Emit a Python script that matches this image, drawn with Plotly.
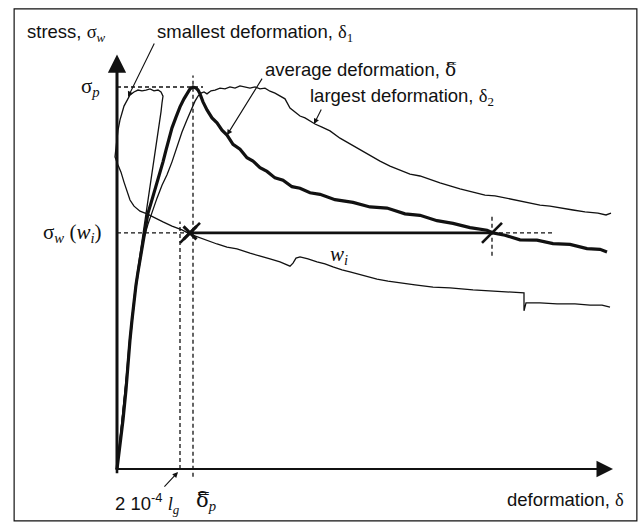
import plotly.graph_objects as go

# ---------------- data (deformation in arbitrary units, stress in % of peak) -------------
avg_d = [0, 0.03, 0.06, 0.09, 0.11, 0.13, 0.15, 0.17, 0.19, 0.21, 0.23, 0.25, 0.27, 0.29, 0.31,
         0.34, 0.37, 0.40, 0.43, 0.46, 0.49, 0.52, 0.55, 0.59, 0.63, 0.67, 0.70, 0.73, 0.76, 0.79,
         0.81, 0.83, 0.86, 0.90, 0.95, 1.00, 1.05, 1.10, 1.16, 1.23, 1.30, 1.36, 1.43, 1.50, 1.58,
         1.66, 1.75, 1.83, 1.93, 2.03, 2.18, 2.36, 2.53, 2.70, 2.88, 3.03, 3.20, 3.36, 3.53, 3.70,
         3.76, 3.88, 4.03, 4.20, 4.36, 4.53, 4.70, 4.83, 4.90]
avg_s = [0, 6.3, 12.8, 20.7, 28.5, 33.8, 39.0, 44.2, 48.2, 51.6, 54.7, 57.9, 61.3, 64.1, 67.0,
         69.6, 72.3, 74.9, 77.2, 80.4, 83.5, 86.6, 89.3, 92.1, 94.8, 96.9, 98.4, 99.5, 100.0, 99.7,
         99.2, 98.2, 96.1, 94.0, 91.9, 90.6, 88.7, 87.4, 85.0, 83.7, 81.5, 80.6, 78.9, 77.9, 76.2,
         75.6, 73.9, 73.5, 72.3, 71.9, 70.5, 69.8, 68.6, 68.3, 66.8, 66.4, 65.0, 64.3, 63.2, 62.5,
         61.8, 61.2, 60.0, 59.9, 59.0, 58.8, 57.7, 57.5, 56.8]

lg_d = [0, 0.03, 0.06, 0.09, 0.12, 0.15, 0.18, 0.21, 0.24, 0.27, 0.31, 0.35, 0.40, 0.45, 0.50,
        0.55, 0.60, 0.65, 0.70, 0.74, 0.78, 0.81, 0.84, 0.87, 0.90, 0.94, 0.98, 1.03, 1.08, 1.13,
        1.18, 1.23, 1.28, 1.33, 1.38, 1.43, 1.48, 1.53, 1.58, 1.63, 1.68, 1.73, 1.78, 1.83, 1.88,
        1.93, 1.98, 2.05, 2.13, 2.23, 2.33, 2.43, 2.53, 2.63, 2.73, 2.83, 2.93, 3.03, 3.13, 3.23,
        3.33, 3.43, 3.56, 3.68, 3.78, 3.90, 4.03, 4.13, 4.23, 4.33, 4.43, 4.56, 4.68, 4.81, 4.89,
        4.94]
lg_s = [0, 7.6, 15.4, 23.3, 31.2, 39.0, 45.5, 50.8, 56.0, 60.5, 64.1, 67.3, 70.9, 74.3, 77.0,
        80.4, 84.3, 88.2, 91.4, 94.0, 96.3, 97.6, 98.4, 98.7, 98.2, 99.0, 99.2, 99.7, 99.5, 100.0,
        99.7, 100.3, 100.0, 99.7, 100.0, 99.5, 99.7, 98.9, 98.4, 97.6, 96.9, 94.5, 93.5, 92.4, 91.9,
        91.1, 90.3, 89.5, 88.5, 86.6, 85.1, 83.5, 82.2, 80.6, 79.3, 78.3, 77.2, 76.7, 75.7, 74.9,
        74.1, 73.3, 72.5, 71.7, 71.5, 70.9, 70.2, 69.6, 69.1, 68.8, 68.3, 67.8, 67.3, 67.0, 66.5,
        67.0]

sm_d = [0, 0.03, 0.06, 0.09, 0.12, 0.15, 0.18, 0.21, 0.24, 0.27, 0.29, 0.31, 0.33, 0.35, 0.38,
        0.40, 0.42, 0.44, 0.45, 0.46, 0.44, 0.41, 0.37, 0.33, 0.29, 0.25, 0.21, 0.17, 0.13, 0.10,
        0.07, 0.05, 0.03, 0.01, 0.00, -0.01, -0.02, 0.01, 0.04, 0.07, 0.10, 0.13, 0.17, 0.23, 0.30,
        0.38, 0.46, 0.55, 0.65, 0.73, 0.81, 0.90, 1.00, 1.10, 1.20, 1.33, 1.43, 1.53, 1.63, 1.73,
        1.76, 1.79, 1.83, 1.91, 2.00, 2.08, 2.16, 2.25, 2.33, 2.45, 2.60, 2.71, 2.83, 2.98, 3.16,
        3.33, 3.56, 3.73, 3.90, 4.07, 4.07, 4.09, 4.23, 4.40, 4.58, 4.73, 4.85, 4.93]
sm_s = [0, 7.6, 15.4, 23.3, 32.5, 40.3, 46.9, 52.6, 57.9, 62.6, 66.5, 70.4, 74.3, 77.7, 82.2,
        86.1, 90.1, 93.5, 95.8, 97.6, 98.7, 99.2, 99.0, 99.5, 99.2, 99.0, 99.2, 98.7, 97.9, 96.6,
        95.0, 93.2, 91.4, 88.7, 86.1, 83.5, 81.7, 79.6, 77.7, 75.1, 72.5, 70.4, 68.8, 67.5, 66.8,
        65.7, 64.7, 63.6, 62.6, 61.5, 60.7, 59.7, 58.9, 58.1, 57.6, 56.5, 55.8, 55.0, 54.2, 53.1,
        53.9, 55.2, 55.5, 55.0, 54.2, 53.7, 52.9, 52.1, 51.6, 50.8, 49.7, 49.2, 48.7, 48.2, 47.6,
        47.4, 46.9, 46.6, 46.3, 46.1, 41.4, 43.5, 43.5, 43.2, 43.2, 42.9, 42.9, 42.4]

sigma_p = 100.0      # peak stress
sigma_wi = 61.8      # stress at w_i
delta_p = 0.76       # average deformation at peak
delta_lg = 0.63      # 2e-4 * l_g
delta_end = 3.75     # end of w_i

INK = "#111111"
SANS = "Liberation Sans, Arial, sans-serif"
SERIF = "Liberation Serif"
DBAR = '<span style="font-family:DejaVu Serif">δ̿</span>'


def G(s):
    return f'<span style="font-family:{SERIF}">{s}</span>'


fig = go.Figure()

# curves
fig.add_trace(go.Scatter(x=sm_d, y=sm_s, mode="lines", line=dict(color=INK, width=1.3)))
fig.add_trace(go.Scatter(x=lg_d, y=lg_s, mode="lines", line=dict(color=INK, width=1.3)))
fig.add_trace(go.Scatter(x=avg_d, y=avg_s, mode="lines", line=dict(color=INK, width=3.2)))

# dashed guides
dash = dict(color=INK, width=1.3, dash="4px,3px")
fig.add_trace(go.Scatter(x=[0, delta_p + 0.1], y=[sigma_p, sigma_p], mode="lines", line=dash))
fig.add_trace(go.Scatter(x=[0, delta_p - 0.03], y=[sigma_wi, sigma_wi], mode="lines", line=dash))
fig.add_trace(go.Scatter(x=[delta_end, delta_end + 0.63], y=[sigma_wi, sigma_wi], mode="lines", line=dash))
fig.add_trace(go.Scatter(x=[delta_lg, delta_lg], y=[0, sigma_wi + 3], mode="lines", line=dash))
fig.add_trace(go.Scatter(x=[delta_p, delta_p], y=[-2, sigma_p + 3], mode="lines", line=dash))
fig.add_trace(go.Scatter(x=[delta_end, delta_end], y=[sigma_wi - 6, sigma_wi + 5], mode="lines", line=dash))

# w_i segment
fig.add_trace(go.Scatter(x=[delta_p - 0.03, delta_end], y=[sigma_wi, sigma_wi], mode="lines",
                         line=dict(color=INK, width=2.6)))
# end marks
fig.add_trace(go.Scatter(x=[delta_p - 0.03, delta_end], y=[sigma_wi, sigma_wi], mode="markers",
                         marker=dict(symbol="line-ne", size=20, line=dict(color=INK, width=2.6))))
fig.add_trace(go.Scatter(x=[delta_p - 0.03], y=[sigma_wi], mode="markers",
                         marker=dict(symbol="x-thin", size=13, line=dict(color=INK, width=3))))

ann = []
# axes with arrowheads
ann.append(dict(x=0, y=108.5, ax=0, ay=-1.5, xref="x", yref="y", axref="x", ayref="y",
                showarrow=True, arrowhead=2, arrowsize=1.4, arrowwidth=2.6, arrowcolor=INK, text=""))
ann.append(dict(x=4.96, y=0, ax=-0.03, ay=0, xref="x", yref="y", axref="x", ayref="y",
                showarrow=True, arrowhead=2, arrowsize=1.5, arrowwidth=2.2, arrowcolor=INK, text=""))

# labels
f = dict(family=SANS, size=18.5, color=INK)
fs = dict(family=SERIF, size=21, color=INK)
ann.append(dict(x=-0.92, y=114.1, text="stress, " + G("σ<sub><i>w</i></sub>"), xanchor="left",
                yanchor="middle", showarrow=False, font=f))
ann.append(dict(x=0.38, y=114.1, text="smallest deformation, " + G("δ<sub>1</sub>"), xanchor="left",
                yanchor="middle", showarrow=False, font=f))
ann.append(dict(x=1.46, y=104.7, text="average deformation, " + DBAR, xanchor="left",
                yanchor="middle", showarrow=False, font=f))
ann.append(dict(x=1.91, y=97.4, text="largest deformation, " + G("δ<sub>2</sub>"), xanchor="left",
                yanchor="middle", showarrow=False, font=f))
ann.append(dict(x=-0.15, y=sigma_p, text="σ<sub><i>p</i></sub>", xanchor="right",
                yanchor="middle", showarrow=False, font=fs))
ann.append(dict(x=-0.14, y=sigma_wi, text="σ<sub><i>w</i></sub> (<i>w<sub>i</sub></i>)", xanchor="right",
                yanchor="middle", showarrow=False, font=fs))
ann.append(dict(x=2.22, y=56.0, text="<i>w<sub>i</sub></i>", xanchor="center",
                yanchor="middle", showarrow=False, font=fs))
ann.append(dict(x=-0.04, y=-8.9, text="2 10<sup>-4</sup> " + G("<i>l<sub>g</sub></i>"), xanchor="left",
                yanchor="middle", showarrow=False, font=f))
ann.append(dict(x=0.77, y=-8.4, text=DBAR + "<sub><i>p</i></sub>", xanchor="left",
                yanchor="middle", showarrow=False, font=fs))
ann.append(dict(x=3.88, y=-8.1, text="deformation, " + G("δ"), xanchor="left",
                yanchor="middle", showarrow=False, font=f))

# pointer arrows
ptr = dict(showarrow=True, arrowhead=2, arrowsize=1, arrowwidth=1.1, arrowcolor=INK, text="",
           xref="x", yref="y")
ann.append(dict(x=0.11, y=97.4, ax=27, ay=-55, **ptr))
ann.append(dict(x=1.10, y=87.4, ax=36, ay=-58, **ptr))
ann.append(dict(x=1.97, y=90.3, ax=8, ay=-16, **ptr))
ann.append(dict(x=0.61, y=-0.8, ax=-15, ay=16, **ptr))

fig.update_layout(
    width=642, height=525, autosize=False,
    margin=dict(l=0, r=0, t=0, b=0),
    paper_bgcolor="white", plot_bgcolor="white",
    showlegend=False,
    xaxis=dict(range=[-1.17, 5.25], visible=False, fixedrange=True),
    yaxis=dict(range=[-14.66, 122.77], visible=False, fixedrange=True),
    annotations=ann,
    shapes=[dict(type="rect", xref="paper", yref="paper", x0=0.022, x1=0.992, y0=0.008, y1=0.983,
                 line=dict(color=INK, width=1.2))],
)
fig.add_shape(type="line", x0=0, y0=0, x1=4.9, y1=0, xref="x", yref="y",
              line=dict(color=INK, width=2.2))
fig.add_shape(type="line", x0=0, y0=0, x1=0, y1=104, xref="x", yref="y",
              line=dict(color=INK, width=2.6))

fig.write_html("out.html", config={"displayModeBar": False},
               post_script="document.body.style.margin='0';document.body.style.overflow='hidden';")
